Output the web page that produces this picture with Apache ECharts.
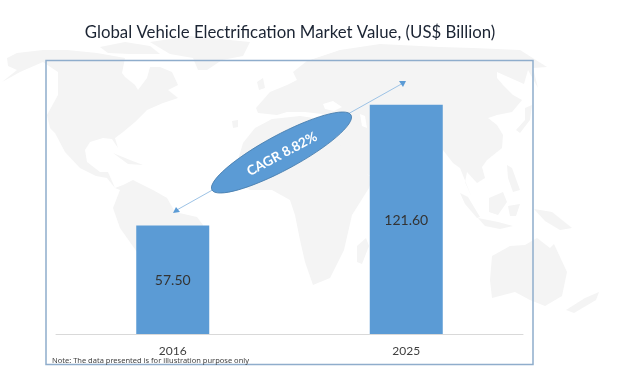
<!DOCTYPE html>
<html>
<head>
<meta charset="utf-8">
<style>
  html, body { margin: 0; padding: 0; background: #fff; }
  #chart { width: 624px; height: 372px; }
</style>
<script src="https://cdn.jsdelivr.net/npm/echarts@6/dist/echarts.min.js"></script>
</head>
<body>
<div id="chart"></div>
<script>
  const years = ['2016', '2025']
  const marketValues = [57.5, 121.6]
  const titleText = 'Global Vehicle Electrification Market Value, (US$ Billion)'
  const cagrText = 'CAGR 8.82%'
  const noteText = 'Note: The data presented is for illustration purpose only'

  // faint world map behind the chart, rough outlines in page pixels
  const land = [
    // alaska tail and north america
    [[7,58],[17,53],[43,50],[67,50],[97,53],[125,58],[122,73],[125,77],[135,85],[138,90],[147,78],[150,67],[160,67],[172,72],[178,85],[168,90],[178,98],[163,103],[147,110],[135,122],[123,132],[115,138],[118,148],[112,139],[103,138],[90,142],[85,150],[87,162],[100,172],[108,172],[115,188],[107,178],[96,176],[80,168],[65,152],[55,133],[50,128],[47,115],[58,95],[58,72],[43,62],[20,72],[2,82],[17,70],[8,66]],
    // arctic islands and greenland
    [[100,47],[125,42],[150,46],[160,54],[130,54],[108,53]],
    [[150,42],[190,36],[250,42],[243,56],[222,60],[207,70],[198,70],[193,58],[170,54]],
    [[113,153],[130,160],[143,165],[128,164]],
    // south america
    [[115,188],[123,185],[133,180],[153,190],[167,198],[175,212],[197,217],[203,225],[200,240],[137,252],[120,228],[113,208],[120,190]],
    // africa
    [[243,143],[255,128],[272,119],[300,116],[328,120],[345,138],[354,164],[372,178],[369,188],[352,215],[344,250],[330,278],[313,285],[305,262],[300,240],[295,215],[290,200],[272,190],[250,190],[236,180],[238,160]],
    [[357,246],[366,238],[369,246],[362,264],[357,262]],
    // north atlantic islands
    [[232,121],[238,120],[238,127],[233,128]],
    [[257,82],[263,78],[265,88],[259,90]],
    // eurasia
    [[258,113],[256,108],[270,92],[287,85],[297,80],[293,72],[307,61],[340,50],[380,44],[440,47],[473,48],[520,50],[547,67],[533,68],[538,88],[528,70],[524,84],[497,72],[497,78],[503,85],[513,95],[522,100],[512,112],[497,115],[488,118],[497,125],[503,135],[502,148],[487,160],[482,167],[485,178],[477,183],[467,172],[465,182],[472,198],[460,168],[453,163],[443,150],[430,208],[420,190],[405,168],[385,164],[376,178],[356,170],[341,146],[335,128],[322,114],[305,112],[287,112],[277,115]],
    // japan, philippines and the islands south of them
    [[525,108],[532,105],[530,120],[520,133],[516,130],[525,120]],
    [[507,165],[512,168],[520,190],[513,192],[508,178]],
    [[460,193],[468,197],[480,217],[477,218],[465,204]],
    [[489,198],[503,192],[507,202],[498,215],[489,212]],
    [[478,218],[498,222],[513,226],[500,229],[485,226]],
    [[508,206],[520,204],[516,216],[510,216]],
    [[534,209],[552,212],[572,228],[560,230],[545,221]],
    [[492,256],[510,246],[525,245],[537,238],[550,248],[554,244],[567,272],[562,296],[545,306],[530,300],[515,292],[492,298],[490,280]],
    [[566,310],[585,298],[599,292],[596,300],[574,313]]
  ]
  const seas = [
    [[323,104],[333,101],[342,107],[334,111],[325,109]],
    [[360,114],[365,116],[367,128],[362,126]]
  ]

  const chart = echarts.init(document.getElementById('chart'))

  const mapShapes = land.map((points) => ({
    type: 'polygon',
    silent: true,
    z: -10,
    shape: { points: points },
    style: { fill: '#f4f4f4' }
  })).concat(seas.map((points) => ({
    type: 'polygon',
    silent: true,
    z: -9,
    shape: { points: points },
    style: { fill: '#ffffff' }
  })))

  chart.setOption({
    animation: false,
    backgroundColor: '#ffffff',
    title: {
      text: titleText,
      left: 285,
      top: 19,
      textAlign: 'center',
      textStyle: { fontFamily: 'Lato', fontSize: 16.8, fontWeight: 'normal', color: '#1b2433' }
    },
    grid: { left: 56, right: 101, top: 70, bottom: 38 },
    xAxis: {
      type: 'category',
      data: years,
      axisTick: { show: false },
      axisLine: { lineStyle: { color: '#d9d9d9', width: 1 } },
      axisLabel: { color: '#404040', fontFamily: 'Lato', fontSize: 12, margin: 11 }
    },
    yAxis: { type: 'value', min: 0, max: 140, show: false },
    series: [{
      type: 'bar',
      data: marketValues,
      barWidth: 73,
      itemStyle: { color: '#5b9bd5' },
      label: {
        show: true,
        position: 'inside',
        offset: [0, 1],
        color: '#333333',
        fontFamily: 'Lato',
        fontSize: 14,
        formatter: (p) => p.value.toFixed(2)
      }
    }],
    graphic: mapShapes.concat([
      {
        type: 'rect',
        silent: true,
        z: 5,
        shape: { x: 46, y: 60.5, width: 487, height: 304 },
        style: { fill: 'transparent', stroke: '#8fadcc', lineWidth: 1.5 }
      },
      {
        type: 'line',
        silent: true,
        z: 6,
        shape: { x1: 175, y1: 211, x2: 405, y2: 82 },
        style: { stroke: '#9dc3e6', lineWidth: 1 }
      },
      {
        type: 'polygon',
        silent: true,
        z: 6,
        shape: { points: [[173, 213], [180, 212], [176, 207]] },
        style: { fill: '#5b9bd5' }
      },
      {
        type: 'polygon',
        silent: true,
        z: 6,
        shape: { points: [[406, 81], [399, 81], [403, 87]] },
        style: { fill: '#5b9bd5' }
      },
      {
        type: 'ellipse',
        silent: true,
        z: 7,
        x: 281.5,
        y: 152.5,
        rotation: 28.3 * Math.PI / 180,
        shape: { cx: 0, cy: 0, rx: 79, ry: 17.5 },
        style: { fill: '#5b9bd5', stroke: '#4a7fae', lineWidth: 0.8 }
      },
      {
        type: 'text',
        silent: true,
        z: 8,
        x: 282,
        y: 154,
        rotation: 28.3 * Math.PI / 180,
        style: {
          text: cagrText,
          fill: '#ffffff',
          font: 'bold 13.5px Lato',
          align: 'center',
          verticalAlign: 'middle'
        }
      },
      {
        type: 'text',
        silent: true,
        z: 8,
        x: 52,
        y: 361,
        style: {
          text: noteText,
          fill: '#404040',
          font: '7.5px "Noto Sans"',
          align: 'left',
          verticalAlign: 'middle'
        }
      }
    ])
  })
</script>
</body>
</html>
